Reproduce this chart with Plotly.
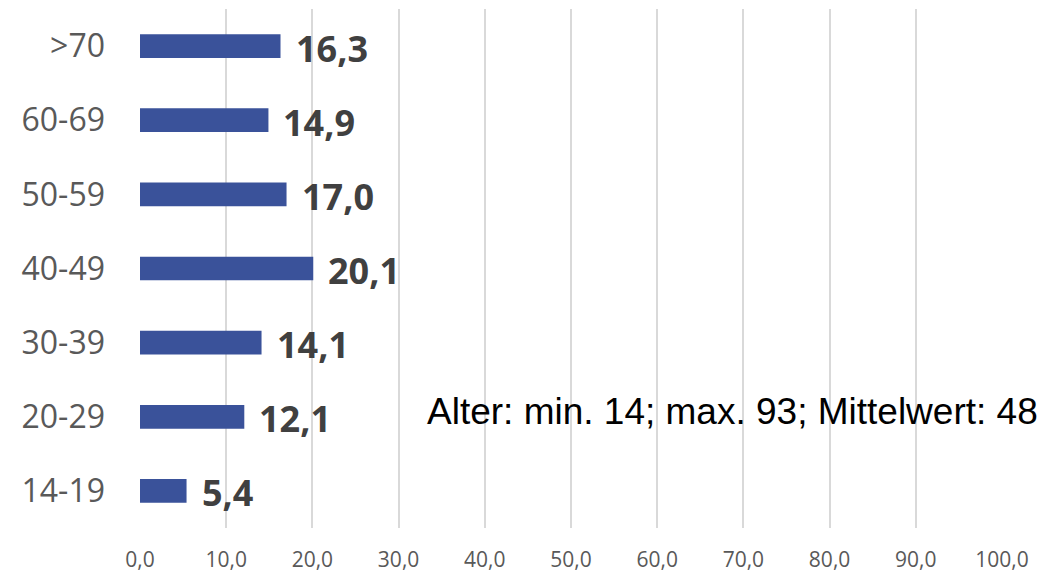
import plotly.graph_objects as go

# Age groups (bottom to top) and share per group
age_groups = ["14-19", "20-29", "30-39", "40-49", "50-59", "60-69", ">70"]
shares = [5.4, 12.1, 14.1, 20.1, 17.0, 14.9, 16.3]
x_ticks = [0, 10, 20, 30, 40, 50, 60, 70, 80, 90, 100]
x_tick_labels = [f"{v:.1f}".replace(".", ",") for v in x_ticks]
note = "Alter: min. 14; max. 93; Mittelwert: 48"

fig = go.Figure()
fig.add_trace(go.Bar(
    y=age_groups,
    x=shares,
    orientation="h",
    marker=dict(color="#3A529A", line=dict(width=0)),
    hoverinfo="skip",
))

# Bold value labels placed right of each bar end
for cat, val in zip(age_groups, shares):
    fig.add_annotation(
        x=val, y=cat, xref="x", yref="y",
        text=f"<b>{val:.1f}</b>".replace(".", ","),
        showarrow=False, xanchor="left", yanchor="middle",
        xshift=13, yshift=-2,
        font=dict(family="Open Sans", size=36, color="#404040"),
    )

fig.add_annotation(
    x=(732 - 140) / 862, y=(528 - 411) / 519, xref="paper", yref="paper",
    text=note, showarrow=False,
    xanchor="center", yanchor="middle",
    font=dict(family="Liberation Sans, Arial", size=37, color="#000000"),
)

fig.update_layout(
    width=1047, height=574,
    margin=dict(l=140, r=45, t=9, b=46, pad=0),
    plot_bgcolor="white", paper_bgcolor="white",
    bargap=0.68,
    showlegend=False,
    xaxis=dict(
        range=[0, 100], automargin=False,
        tickvals=x_ticks, ticktext=x_tick_labels,
        showgrid=True, gridcolor="#D9D9D9", gridwidth=1.5,
        zeroline=False, showline=False,
        tickfont=dict(family="Open Sans", size=21, color="#595959"),
        ticks="", ticklabelstandoff=17,
    ),
    yaxis=dict(
        categoryorder="array", categoryarray=age_groups, automargin=False,
        showgrid=False, zeroline=False, showline=False,
        tickfont=dict(family="Open Sans", size=32, color="#595959"),
        ticks="", ticklabelstandoff=34,
    ),
)

fig.write_html("out.html")
